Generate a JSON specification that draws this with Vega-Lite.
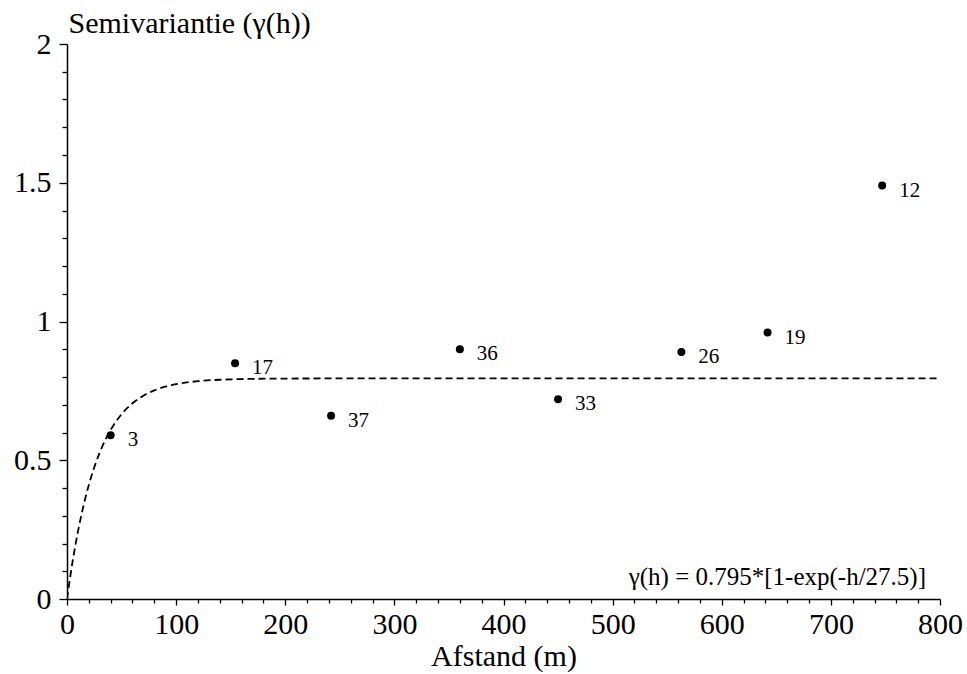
{
  "$schema": "https://vega.github.io/schema/vega-lite/v6.json",
  "width": 873,
  "height": 555,
  "autosize": "none",
  "padding": {"left": 67, "top": 44, "right": 27, "bottom": 75},
  "background": "white",
  "config": {
    "view": {"stroke": null},
    "font": "Liberation Serif",
    "axis": {"grid": false, "domainColor": "black", "domainWidth": 1.5, "tickColor": "black", "tickWidth": 1.3, "labelColor": "black", "titleColor": "black", "labelFont": "Liberation Serif", "titleFont": "Liberation Serif", "labelFontSize": 30, "titleFontSize": 30, "titleFontWeight": "normal"}
  },
  "resolve": {"axis": {"x": "independent", "y": "independent"}},
  "datasets": {
    "points": [
      {"h": 40, "gamma": 0.59, "n": "3"},
      {"h": 154, "gamma": 0.85, "n": "17"},
      {"h": 242, "gamma": 0.66, "n": "37"},
      {"h": 360, "gamma": 0.9, "n": "36"},
      {"h": 450, "gamma": 0.72, "n": "33"},
      {"h": 563, "gamma": 0.89, "n": "26"},
      {"h": 642, "gamma": 0.96, "n": "19"},
      {"h": 747, "gamma": 1.49, "n": "12"}
    ],
    "model": [
      {"h": 0, "g": 0},
      {"h": 5, "g": 0.1321},
      {"h": 10, "g": 0.2424},
      {"h": 15, "g": 0.3342},
      {"h": 20, "g": 0.4109},
      {"h": 25, "g": 0.4747},
      {"h": 30, "g": 0.528},
      {"h": 35, "g": 0.5723},
      {"h": 40, "g": 0.6093},
      {"h": 50, "g": 0.666},
      {"h": 60, "g": 0.7053},
      {"h": 70, "g": 0.7327},
      {"h": 80, "g": 0.7517},
      {"h": 90, "g": 0.7649},
      {"h": 100, "g": 0.7741},
      {"h": 120, "g": 0.7849},
      {"h": 140, "g": 0.7901},
      {"h": 160, "g": 0.7926},
      {"h": 200, "g": 0.7944},
      {"h": 300, "g": 0.795},
      {"h": 800, "g": 0.795}
    ]
  },
  "layer": [
    {
      "data": {"name": "model"},
      "mark": {"type": "line", "color": "black", "strokeWidth": 1.8, "strokeDash": [7, 4], "interpolate": "monotone", "clip": true},
      "encoding": {
        "x": {
          "field": "h", "type": "quantitative",
          "scale": {"domain": [0, 800], "nice": false, "zero": false},
          "axis": {
            "orient": "bottom",
            "title": "Afstand (m)",
            "titleY": 66, "titleBaseline": "alphabetic",
            "values": [0,100,200,300,400,500,600,700,800],
            "format": "d",
            "tickSize": 6,
            "labelPadding": 4,
            "labelFlush": false
          }
        },
        "y": {
          "field": "g", "type": "quantitative",
          "scale": {"domain": [0, 2], "nice": false, "zero": false},
          "axis": {
            "orient": "left",
            "title": "Semivariantie (γ(h))",
            "titleAngle": 0, "titleAlign": "left", "titleBaseline": "alphabetic", "titleX": 1, "titleY": -12, "titleAnchor": null,
            "values": [0,0.5,1,1.5,2],
            "format": "~g",
            "tickSize": 8,
            "labelPadding": 8,
            "labelFlush": false,
            "labelBaseline": "middle"
          }
        }
      }
    },
    {
      "data": {"name": "points"},
      "mark": {"type": "point", "shape": "circle", "filled": true, "color": "black", "size": 64, "opacity": 1},
      "encoding": {
        "x": {
          "field": "h", "type": "quantitative",
          "axis": {
            "orient": "bottom", "title": null, "labels": false, "domain": false, "tickSize": 4,
            "values": [20,40,60,80,120,140,160,180,220,240,260,280,320,340,360,380,420,440,460,480,520,540,560,580,620,640,660,680,720,740,760,780]
          }
        },
        "y": {
          "field": "gamma", "type": "quantitative",
          "axis": {
            "orient": "left", "title": null, "labels": false, "domain": false, "tickSize": 5,
            "values": [0.1,0.2,0.3,0.4,0.6,0.7,0.8,0.9,1.1,1.2,1.3,1.4,1.6,1.7,1.8,1.9]
          }
        }
      }
    },
    {
      "data": {"name": "points"},
      "mark": {"type": "text", "align": "left", "baseline": "middle", "dx": 17, "dy": 5, "fontSize": 21, "font": "Liberation Serif", "color": "black"},
      "encoding": {
        "x": {"field": "h", "type": "quantitative", "axis": null},
        "y": {"field": "gamma", "type": "quantitative", "axis": null},
        "text": {"field": "n"}
      }
    },
    {
      "data": {"values": [{"label": "γ(h) = 0.795*[1-exp(-h/27.5)]"}]},
      "mark": {"type": "text", "align": "right", "baseline": "alphabetic", "dx": -14, "dy": -14, "fontSize": 25, "font": "Liberation Serif", "color": "black"},
      "encoding": {
        "x": {"datum": 800, "type": "quantitative", "axis": null},
        "y": {"datum": 0, "type": "quantitative", "axis": null},
        "text": {"field": "label"}
      }
    }
  ]
}
